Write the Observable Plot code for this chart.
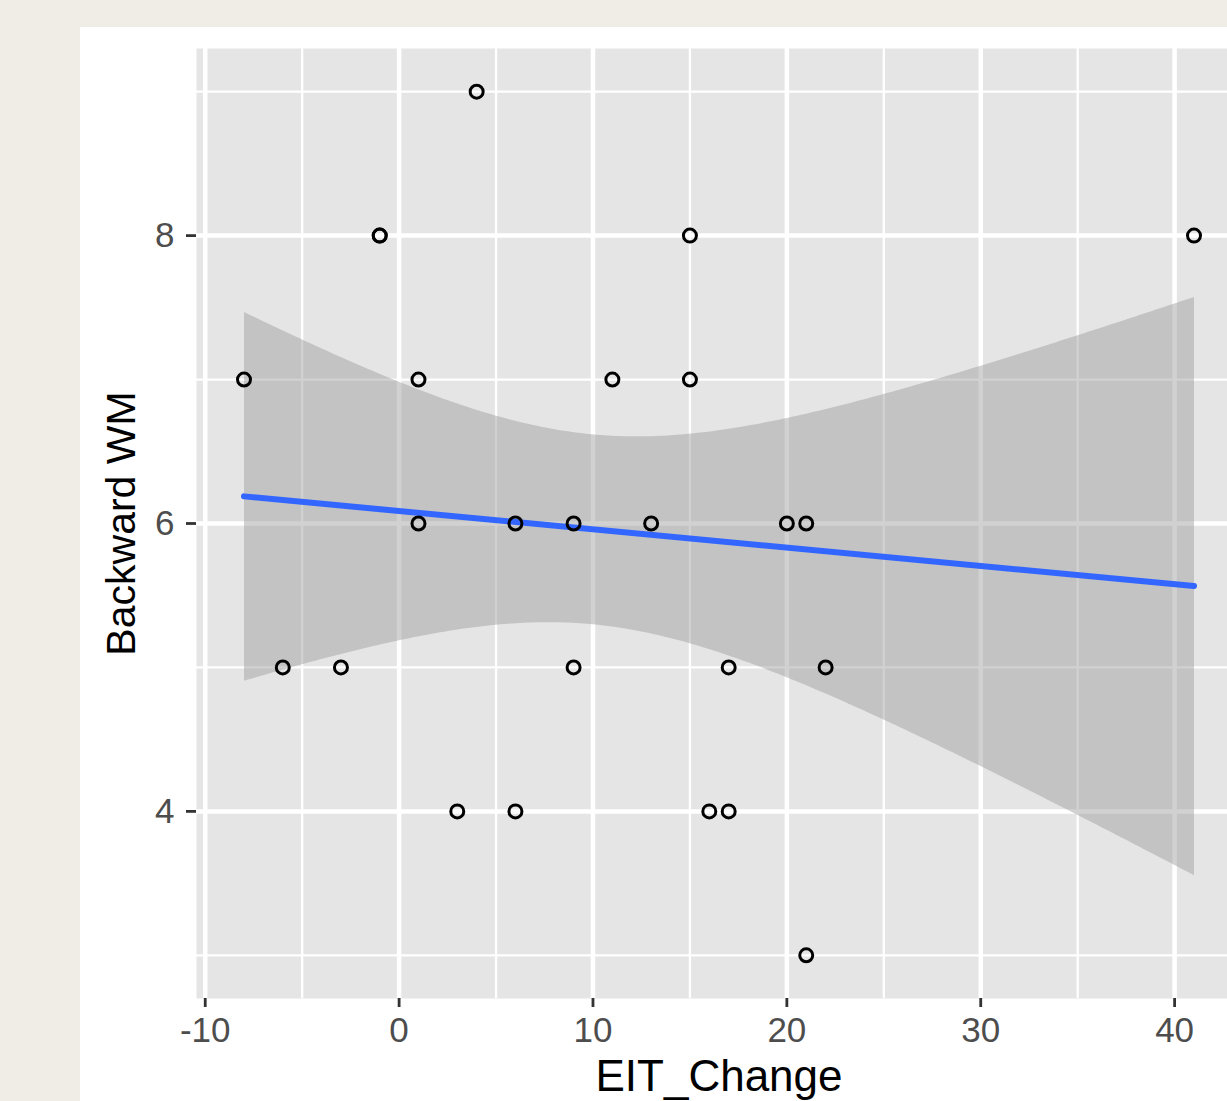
<!DOCTYPE html>
<html>
<head>
<meta charset="utf-8">
<script src="https://cdn.jsdelivr.net/npm/d3@7"></script>
<script src="https://cdn.jsdelivr.net/npm/@observablehq/plot@0.6"></script>
<style>
  html, body { margin: 0; padding: 0; background: #f0ede6; overflow: hidden; width: 1227px; height: 1101px; }
  #panel { position: absolute; left: 80px; top: 27px; width: 1200px; height: 1074px; background: #ffffff; overflow: visible; }
  #panel svg { font-family: "Liberation Sans", Arial, sans-serif; overflow: visible; max-width: none !important; }
  #panel g[aria-label="x-axis tick label"] text, #panel g[aria-label="y-axis tick label"] text { fill: #4d4d4d; }
</style>
</head>
<body>
<div id="panel"></div>
<script>
// Data (EIT_Change vs Backward WM); (-1, 8) appears twice (overplotted)
const eitChange  = [4, -1, -1, 15, 41, -8, 1, 11, 15, 1, 6, 9, 13, 20, 21, -6, -3, 9, 17, 22, 3, 6, 16, 17, 21];
const backwardWM = [9,  8,  8,  8,  8,  7, 7,  7,  7, 6, 6, 6,  6,  6,  6,  5,  5, 5,  5,  5, 4, 4,  4,  4,  3];

const xMajor = [-10, 0, 10, 20, 30, 40];
const xMinor = [-5, 5, 15, 25, 35];
const yMajor = [4, 6, 8];
const yMinor = [3, 5, 7, 9];
const xTitle = ["EIT_Change"];
const yTitle = ["Backward WM"];

const data = eitChange.map((x, i) => ({x, y: backwardWM[i]}));

// ggplot-style expansion (5%)
const xr = d3.extent(eitChange), yr = d3.extent(backwardWM);
const xpad = (xr[1] - xr[0]) * 0.05, ypad = (yr[1] - yr[0]) * 0.05;

const chart = Plot.plot({
  width: 1161,
  height: 1074,
  marginLeft: 116,
  marginRight: 0,
  marginTop: 21,
  marginBottom: 103,
  x: {domain: [xr[0] - xpad, xr[1] + xpad]},
  y: {domain: [yr[0] - ypad, yr[1] + ypad]},
  marks: [
    Plot.frame({fill: "#e5e5e5", stroke: null}),
    Plot.gridX(xMinor, {stroke: "#ffffff", strokeOpacity: 1, strokeWidth: 2.3}),
    Plot.gridY(yMinor, {stroke: "#ffffff", strokeOpacity: 1, strokeWidth: 2.3}),
    Plot.gridX(xMajor, {stroke: "#ffffff", strokeOpacity: 1, strokeWidth: 4.5}),
    Plot.gridY(yMajor, {stroke: "#ffffff", strokeOpacity: 1, strokeWidth: 4.5}),
    Plot.linearRegressionY(data, {x: "x", y: "y", ci: 0.95, stroke: "#3366ff", strokeWidth: 6, fill: "#999999", fillOpacity: 0.45}),
    Plot.dot(data, {x: "x", y: "y", r: 6.5, stroke: "#000000", strokeWidth: 3, fill: "none"}),
    Plot.axisX(xMajor, {tickSize: 9, tickPadding: 10, strokeWidth: 2.8, stroke: "#333333", fontSize: 35, label: null, tickFormat: d => String(d)}),
    Plot.axisY(yMajor, {tickSize: 10, tickPadding: 12, strokeWidth: 2.8, stroke: "#333333", fontSize: 35, label: null, tickFormat: d => String(d)}),
    Plot.text(xTitle, {frameAnchor: "bottom", lineAnchor: "middle", textAnchor: "middle", dy: 78, fontSize: 44, fill: "#000000", text: d => d}),
    Plot.text(yTitle, {frameAnchor: "left", lineAnchor: "middle", textAnchor: "middle", dx: -75, rotate: -90, fontSize: 41, fill: "#000000", text: d => d})
  ]
});
document.getElementById("panel").appendChild(chart);
</script>
</body>
</html>
